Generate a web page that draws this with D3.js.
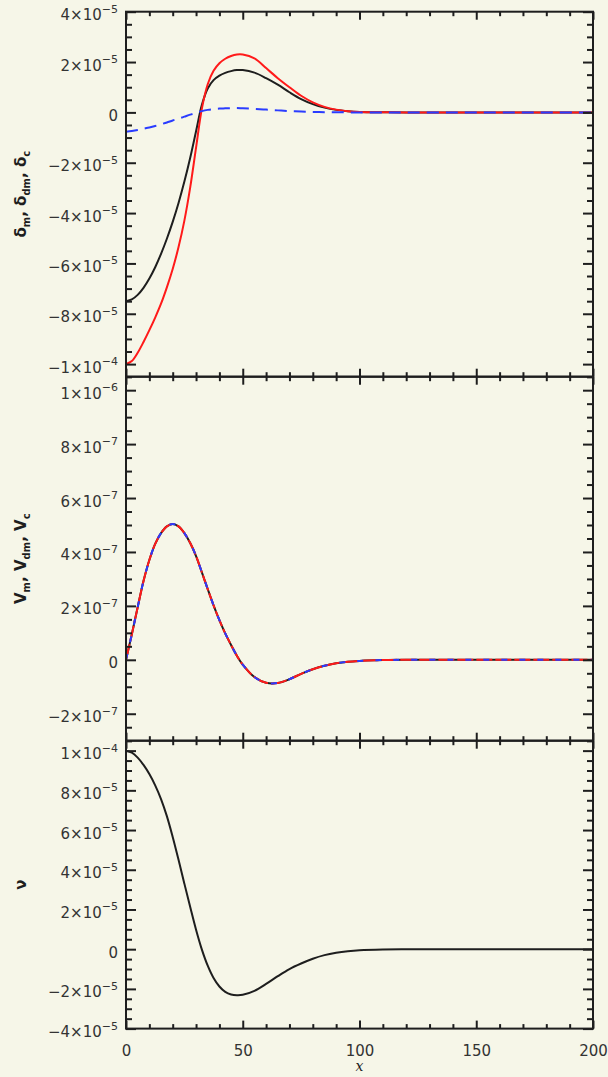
<!DOCTYPE html>
<html>
<head>
<meta charset="utf-8">
<script src="https://cdn.jsdelivr.net/npm/d3@7"></script>
<style>
  html, body { margin: 0; padding: 0; background: #f6f6e8; }
  svg { display: block; }
</style>
</head>
<body>
<svg id="chart" width="608" height="1077"></svg>
<script>
// ---- data -------------------------------------------------------------
const xGrid = [0, 2.5, 5, 7.5, 10, 12.5, 15, 17.5, 20, 22.5, 25, 27.5, 30, 32.5, 35, 37.5,
  40, 42.5, 45, 47.5, 50, 55, 60, 65, 70, 75, 80, 85, 90, 95, 100, 110, 120, 140, 160, 180, 200];

// density contrasts
const deltaM = [-7.5e-5, -7.43e-5, -7.25e-5, -6.97e-5, -6.6e-5, -6.15e-5, -5.62e-5, -5.02e-5, -4.35e-5,
  -3.6e-5, -2.75e-5, -1.8e-5, -0.75e-5, 0.3e-5, 0.95e-5, 1.28e-5, 1.46e-5, 1.57e-5, 1.64e-5, 1.68e-5,
  1.68e-5, 1.58e-5, 1.36e-5, 1.1e-5, 0.8e-5, 0.53e-5, 0.33e-5, 0.19e-5, 0.1e-5, 0.05e-5, 0.02e-5,
  0.005e-5, 0, 0, 0, 0, 0];
const deltaDm = [-1.0e-4, -9.88e-5, -9.55e-5, -9.12e-5, -8.65e-5, -8.15e-5, -7.6e-5, -6.95e-5, -6.22e-5,
  -5.35e-5, -4.3e-5, -2.98e-5, -1.4e-5, 0.15e-5, 1.12e-5, 1.65e-5, 1.95e-5, 2.13e-5, 2.24e-5, 2.3e-5,
  2.3e-5, 2.15e-5, 1.76e-5, 1.36e-5, 1.0e-5, 0.66e-5, 0.4e-5, 0.22e-5, 0.11e-5, 0.05e-5, 0.02e-5,
  0.005e-5, 0, 0, 0, 0, 0];
const deltaC = [-0.77e-5, -0.74e-5, -0.7e-5, -0.65e-5, -0.6e-5, -0.54e-5, -0.47e-5, -0.4e-5, -0.32e-5,
  -0.25e-5, -0.17e-5, -0.09e-5, -0.02e-5, 0.05e-5, 0.1e-5, 0.13e-5, 0.15e-5, 0.16e-5, 0.17e-5, 0.17e-5,
  0.16e-5, 0.14e-5, 0.11e-5, 0.08e-5, 0.05e-5, 0.035e-5, 0.02e-5, 0.01e-5, 0.005e-5, 0, 0,
  0, 0, 0, 0, 0, 0];

// velocities (the three components coincide)
const velM = [0, 0.95e-7, 1.95e-7, 2.92e-7, 3.7e-7, 4.3e-7, 4.7e-7, 4.95e-7, 5.04e-7, 4.95e-7, 4.7e-7,
  4.33e-7, 3.85e-7, 3.24e-7, 2.62e-7, 2.02e-7, 1.47e-7, 0.98e-7, 0.55e-7, 0.15e-7, -0.18e-7, -0.64e-7,
  -0.85e-7, -0.86e-7, -0.72e-7, -0.52e-7, -0.35e-7, -0.22e-7, -0.13e-7, -0.07e-7, -0.04e-7, -0.01e-7,
  0, 0, 0, 0, 0];
const velDm = velM.slice();
const velC = velM.slice();

// potential
const nu = [1.0e-4, 9.9e-5, 9.65e-5, 9.28e-5, 8.82e-5, 8.25e-5, 7.56e-5, 6.7e-5, 5.65e-5, 4.5e-5, 3.3e-5,
  2.12e-5, 0.98e-5, -0.02e-5, -0.83e-5, -1.45e-5, -1.88e-5, -2.15e-5, -2.28e-5, -2.32e-5, -2.3e-5,
  -2.1e-5, -1.75e-5, -1.36e-5, -1.0e-5, -0.72e-5, -0.48e-5, -0.3e-5, -0.18e-5, -0.1e-5, -0.05e-5,
  -0.01e-5, 0, 0, 0, 0, 0];

// ---- ticks ------------------------------------------------------------
const xTicks = [0, 50, 100, 150, 200];
const xTickLabels = ["0", "50", "100", "150", "200"];

const deltaTicks = [4e-5, 2e-5, 0, -2e-5, -4e-5, -6e-5, -8e-5, -1e-4];
const deltaTickLabels = ["4×10^−5", "2×10^−5", "0", "−2×10^−5", "−4×10^−5", "−6×10^−5", "−8×10^−5", "−1×10^−4"];

const velTicks = [1e-6, 8e-7, 6e-7, 4e-7, 2e-7, 0, -2e-7];
const velTickLabels = ["1×10^−6", "8×10^−7", "6×10^−7", "4×10^−7", "2×10^−7", "0", "−2×10^−7"];

const nuTicks = [1e-4, 8e-5, 6e-5, 4e-5, 2e-5, 0, -2e-5, -4e-5];
const nuTickLabels = ["1×10^−4", "8×10^−5", "6×10^−5", "4×10^−5", "2×10^−5", "0", "−2×10^−5", "−4×10^−5"];

// ---- layout -----------------------------------------------------------
const svg = d3.select("#chart");
const left = 126, right = 593;
const ink = "#1e1e1e";
const labelInk = "#333";
const font = "'DejaVu Sans', sans-serif";

const x = d3.scaleLinear().domain([0, 200]).range([left, right]);

const panels = [
  {
    top: 11.7, bottom: 376.7, domain: [-1.05e-4, 4e-5], minorStep: 5e-6,
    ticks: deltaTicks, labels: deltaTickLabels,
    title: [["δ", "m"], ["δ", "dm"], ["δ", "c"]],
    series: [
      { y: deltaM, color: ink, dash: null },
      { y: deltaDm, color: "#ff1a1a", dash: null },
      { y: deltaC, color: "#2a3cff", dash: "12,7" }
    ]
  },
  {
    top: 376.7, bottom: 740.7, domain: [-3e-7, 1.05e-6], minorStep: 5e-8,
    ticks: velTicks, labels: velTickLabels,
    title: [["V", "m"], ["V", "dm"], ["V", "c"]],
    series: [
      { y: velM, color: ink, dash: null },
      { y: velDm, color: "#ff1a1a", dash: "16,3" },
      { y: velC, color: "#2a3cff", dash: "6,12" }
    ]
  },
  {
    top: 740.7, bottom: 1028.6, domain: [-4e-5, 1.05e-4], minorStep: 5e-6,
    ticks: nuTicks, labels: nuTickLabels,
    title: [["ν", ""]],
    series: [
      { y: nu, color: ink, dash: null }
    ],
    xLabels: true
  }
];

function writeSci(textSel, label) {
  textSel.text(null);
  const parts = label.split("^");
  textSel.append("tspan").text(parts[0]);
  if (parts.length > 1) {
    textSel.append("tspan")
      .attr("dy", -7.5)
      .attr("font-size", 11)
      .text(parts[1]);
  }
}

panels.forEach(p => {
  const y = d3.scaleLinear().domain(p.domain).range([p.bottom, p.top]);
  const g = svg.append("g");

  // curves, clipped to the panel frame
  const clipId = "clip" + Math.round(p.top);
  svg.append("clipPath").attr("id", clipId)
    .append("rect").attr("x", left).attr("y", p.top)
    .attr("width", right - left).attr("height", p.bottom - p.top);

  p.series.forEach(s => {
    const line = d3.line()
      .x((d, i) => x(xGrid[i]))
      .y(d => y(d))
      .curve(d3.curveCatmullRom.alpha(0.5));
    g.append("path")
      .attr("clip-path", `url(#${clipId})`)
      .attr("d", line(s.y))
      .attr("fill", "none")
      .attr("stroke", s.color)
      .attr("stroke-width", 2)
      .attr("stroke-dasharray", s.dash);
  });

  // minor tick positions
  const minors = d3.range(Math.ceil(p.domain[0] / p.minorStep), Math.floor(p.domain[1] / p.minorStep) + 1)
    .map(k => k * p.minorStep)
    .filter(v => !p.ticks.some(t => Math.abs(t - v) < p.minorStep / 10));
  const xMinors = d3.range(0, 201, 10).filter(v => v % 50 !== 0);

  const axisStyle = sel => {
    sel.select(".domain").remove();
    sel.selectAll("line").attr("stroke", ink).attr("stroke-width", 2);
  };

  // left axis with labels
  const gl = g.append("g").attr("transform", `translate(${left},0)`)
    .call(d3.axisLeft(y).tickValues(p.ticks).tickSizeInner(-10).tickSizeOuter(0).tickPadding(8))
    .call(axisStyle);
  gl.selectAll(".tick text")
    .attr("font-family", font).attr("font-size", 15).attr("fill", labelInk)
    .attr("x", -8).attr("dy", 8).attr("text-anchor", "end")
    .each(function (d, i) { writeSci(d3.select(this), p.labels[i]); });
  g.append("g").attr("transform", `translate(${left},0)`)
    .call(d3.axisLeft(y).tickValues(minors).tickSizeInner(-6).tickSizeOuter(0).tickFormat(""))
    .call(axisStyle);

  // right axis
  g.append("g").attr("transform", `translate(${right},0)`)
    .call(d3.axisRight(y).tickValues(p.ticks).tickSizeInner(-10).tickSizeOuter(0).tickFormat(""))
    .call(axisStyle);
  g.append("g").attr("transform", `translate(${right},0)`)
    .call(d3.axisRight(y).tickValues(minors).tickSizeInner(-6).tickSizeOuter(0).tickFormat(""))
    .call(axisStyle);

  // top & bottom x axes
  g.append("g").attr("transform", `translate(0,${p.top})`)
    .call(d3.axisTop(x).tickValues(xTicks).tickSizeInner(-8).tickSizeOuter(0).tickFormat(""))
    .call(axisStyle);
  g.append("g").attr("transform", `translate(0,${p.top})`)
    .call(d3.axisTop(x).tickValues(xMinors).tickSizeInner(-4.5).tickSizeOuter(0).tickFormat(""))
    .call(axisStyle);
  const gb = g.append("g").attr("transform", `translate(0,${p.bottom})`)
    .call(d3.axisBottom(x).tickValues(xTicks).tickSizeInner(-8).tickSizeOuter(0)
      .tickFormat((d, i) => p.xLabels ? xTickLabels[i] : ""))
    .call(axisStyle);
  gb.selectAll(".tick text")
    .attr("font-family", font).attr("font-size", 15).attr("fill", labelInk)
    .attr("y", 0).attr("dy", 27);
  g.append("g").attr("transform", `translate(0,${p.bottom})`)
    .call(d3.axisBottom(x).tickValues(xMinors).tickSizeInner(-4.5).tickSizeOuter(0).tickFormat(""))
    .call(axisStyle);

  // frame
  g.append("rect")
    .attr("x", left).attr("y", p.top)
    .attr("width", right - left).attr("height", p.bottom - p.top)
    .attr("fill", "none").attr("stroke", ink).attr("stroke-width", 2);

  // y title
  const cy = (p.top + p.bottom) / 2;
  const t = g.append("text")
    .attr("transform", `translate(26,${cy}) rotate(-90)`)
    .attr("text-anchor", "middle")
    .attr("font-family", font).attr("font-size", 15).attr("font-weight", "bold")
    .attr("fill", ink);
  p.title.forEach((pair, i) => {
    t.append("tspan").attr("dy", i === 0 ? 0 : -4).text((i > 0 ? ", " : "") + pair[0]);
    if (pair[1]) t.append("tspan").attr("dy", 4).attr("font-size", 10).text(pair[1]);
  });
  if (p.xLabels) {
    g.append("text")
      .attr("x", (left + right) / 2).attr("y", 1071)
      .attr("text-anchor", "middle")
      .attr("font-family", "'DejaVu Serif', serif").attr("font-size", 14)
      .attr("font-style", "italic")
      .attr("fill", ink)
      .text("x");
  }
});
</script>
</body>
</html>
